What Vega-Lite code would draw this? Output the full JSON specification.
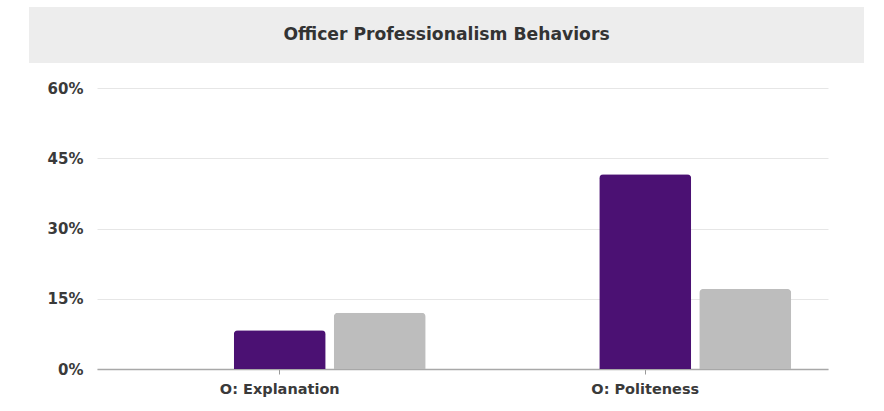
{
  "$schema": "https://vega.github.io/schema/vega-lite/v6.json",
  "padding": {"top": 7, "left": 29, "right": 0, "bottom": 10},
  "background": "white",
  "spacing": 25,
  "bounds": "flush",
  "config": {
    "view": {"stroke": null},
    "font": "DejaVu Sans"
  },
  "vconcat": [
    {
      "width": 835,
      "height": 56,
      "view": {"fill": "#ededed", "stroke": null},
      "data": {"values": [{"label": "Officer Professionalism Behaviors"}]},
      "mark": {"type": "text", "align": "center", "baseline": "middle", "font": "DejaVu Sans", "fontWeight": "bold", "fontSize": 17.2, "color": "#333333"},
      "encoding": {"text": {"field": "label", "type": "nominal"}}
    },
    {
      "bounds": "flush",
      "spacing": 16,
      "hconcat": [
        {
          "width": 52,
          "height": 281,
          "data": {"values": [{"label": ""}]},
          "mark": {"type": "text"},
          "encoding": {"text": {"field": "label", "type": "nominal"}}
        },
        {
          "width": 731,
          "height": 281,
          "data": {
            "values": [
              {"category": "O: Explanation", "series": "Series 1", "value": 0.083},
              {"category": "O: Explanation", "series": "Series 2", "value": 0.12},
              {"category": "O: Politeness", "series": "Series 1", "value": 0.416},
              {"category": "O: Politeness", "series": "Series 2", "value": 0.171}
            ]
          },
          "mark": {"type": "bar", "cornerRadiusTopLeft": 4, "cornerRadiusTopRight": 4},
          "encoding": {
            "x": {
              "field": "category", "type": "nominal",
              "scale": {"paddingInner": 0, "paddingOuter": 0},
              "axis": {"title": null, "labelAngle": 0, "labelFont": "DejaVu Sans", "labelFontWeight": "bold", "labelFontSize": 14.5, "labelColor": "#3a3a3a", "domain": true, "domainColor": "#a8a8a8", "domainWidth": 1.5, "tickColor": "#999999", "tickSize": 5, "labelPadding": 8, "grid": false}
            },
            "xOffset": {
              "field": "series", "type": "nominal",
              "scale": {"domain": ["_", "Series 1", "Series 2"], "paddingInner": 0.08, "paddingOuter": 0.3675}
            },
            "y": {
              "field": "value", "type": "quantitative",
              "scale": {"domain": [0, 0.6]},
              "axis": {"title": null, "format": "%", "values": [0, 0.15, 0.3, 0.45, 0.6], "labelFont": "DejaVu Sans", "labelFontWeight": "bold", "labelFontSize": 15, "labelColor": "#3a3a3a", "ticks": false, "domain": false, "labelPadding": 14, "gridColor": "#e6e6e6"}
            },
            "color": {
              "field": "series", "type": "nominal",
              "scale": {"domain": ["Series 1", "Series 2"], "range": ["#4b1173", "#bdbdbd"]},
              "legend": null
            }
          }
        }
      ]
    }
  ]
}
